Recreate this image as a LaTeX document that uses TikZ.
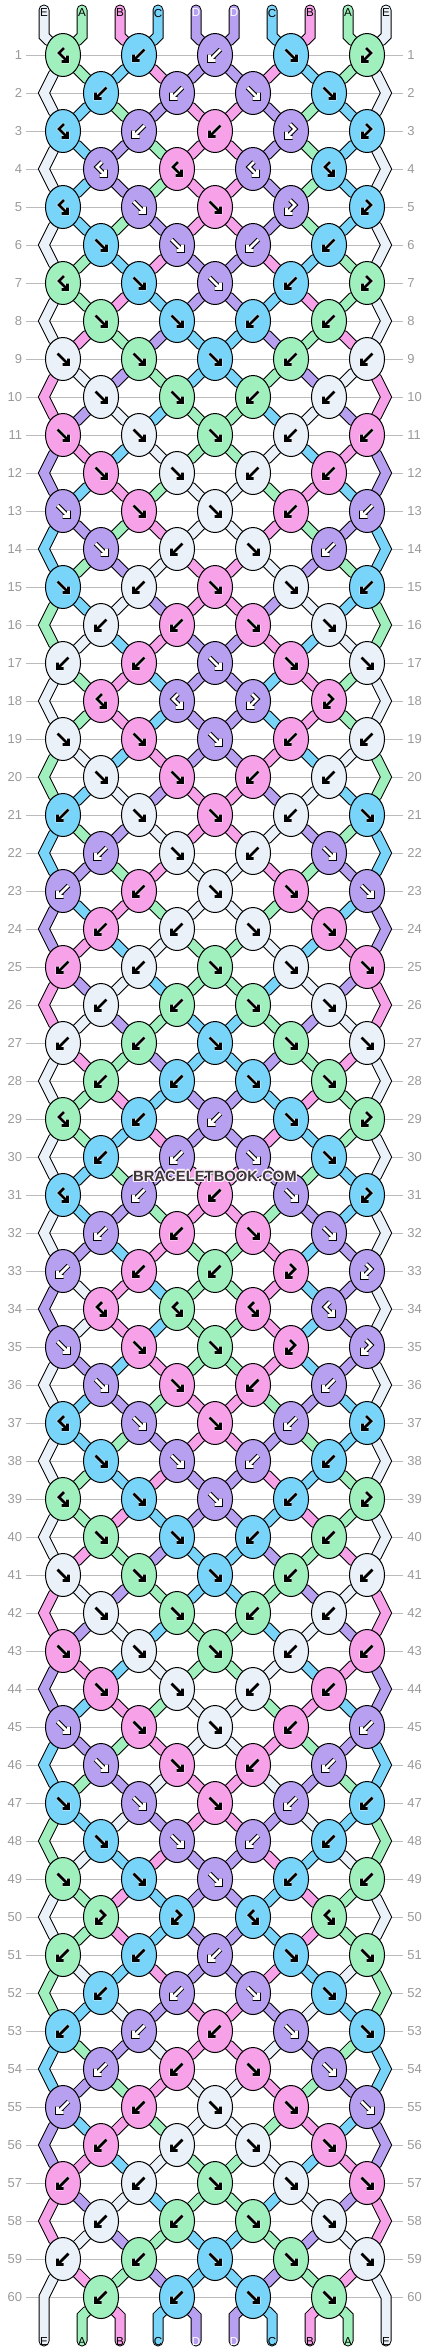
\documentclass[tikz,border=0pt]{standalone}
\usepackage{fontspec}
\setmainfont{Liberation Sans}
\usetikzlibrary{shapes.geometric}

\definecolor{strA}{HTML}{A0F0BE}
\definecolor{strB}{HTML}{F7A1E8}
\definecolor{strC}{HTML}{78D4F8}
\definecolor{strD}{HTML}{B8A0F0}
\definecolor{strE}{HTML}{EAF1F8}
\definecolor{rulegray}{HTML}{BBBBBB}
\definecolor{numgray}{HTML}{999999}
\definecolor{markgray}{HTML}{3A3A3A}

\pgfdeclarelayer{rules}
\pgfdeclarelayer{outline}
\pgfdeclarelayer{band}
\pgfsetlayers{rules,outline,band,main}

% knot icons, pixel units, y pointing down
\def\iconf{(-5.5,-5.5) -- (5.5,5.5) (-0.5,5.5) -- (5.5,5.5) -- (5.5,-0.5)}
\def\iconb{(5.5,-5.5) -- (-5.5,5.5) (0.5,5.5) -- (-5.5,5.5) -- (-5.5,-0.5)}
\def\iconB{(1,-7) -- (-4,-2) -- (4.5,6.5) (-1.5,6.5) -- (4.5,6.5) -- (4.5,0.5)}
\def\iconF{(-1,-7) -- (4,-2) -- (-4.5,6.5) (1.5,6.5) -- (-4.5,6.5) -- (-4.5,0.5)}

% string segments are collected here and drawn on their layers at the end
\gdef\edgecmds{}
\gdef\fillcmds{}

\tikzset{
  knot/.style={ellipse, draw=black, line width=0.5pt, minimum width=17.5pt,
    minimum height=21.5pt, inner sep=0pt},
  bandedge/.style={line width=5.5pt, draw=black, line cap=round, line join=miter},
  bandfill/.style={line width=4.5pt, line cap=round, line join=miter},
  iconline/.style={line join=miter, line cap=butt, miter limit=10},
  rownum/.style={font=\fontsize{6.5}{7}\selectfont, text=numgray, inner sep=0pt},
  strlabel/.style={font=\fontsize{5.8}{6}\selectfont, inner sep=0pt},
  marktext/.style={font=\bfseries\fontsize{7.4}{8}\selectfont, inner sep=0pt},
}

\begin{document}
\begin{tikzpicture}[x=0.5pt, y=-0.5pt]
\useasboundingbox (0,0) rectangle (430,2352);

% row rules and numbers
\begin{pgfonlayer}{rules}
\foreach \rw in {1,...,60} {
  \pgfmathtruncatemacro\yy{55+38*(\rw-1)}
  \draw[rulegray, line width=0.5pt] (26,\yy) -- (403,\yy);
  \node[rownum, anchor=east] (numl\rw) at (22.5,\yy) {\rw};
  \node[rownum, anchor=west] (numr\rw) at (407,\yy) {\rw};
}
\end{pgfonlayer}

% strings at the top
\foreach \c [count=\p] in {E,A,B,C,D,D,C,B,A,E} {
  \pgfmathtruncatemacro\xx{44+38*(\p-1)}
  \expandafter\xdef\csname s\p\endcsname{\c}
  \coordinate (top\p) at (\xx,10);
  \coordinate (topbend\p) at (\xx,36);
  \expandafter\xdef\csname at\p\endcsname{(top\p) -- (topbend\p)}
}

% knots: f forward, b backward, F forward-backward, B backward-forward
\foreach \types [count=\rw] in {
  {B,b,b,f,F},{b,b,f,f},{B,b,b,F,F},{B,B,B,B},{B,f,f,F,F},{f,f,b,b},
  {B,f,f,b,F},{f,f,b,b},{f,f,f,b,b},{f,f,b,b},{f,f,f,b,b},{f,f,b,b},
  {f,f,f,b,b},{f,b,f,b},{f,b,f,f,b},{b,b,f,f},{b,b,f,f,f},{B,B,F,F},
  {f,f,f,b,b},{f,f,b,b},{b,f,f,b,f},{b,f,b,f},{b,b,f,f,f},{b,b,f,f},
  {b,b,f,f,f},{b,b,f,f},{b,b,f,f,f},{b,b,f,f},{B,b,b,f,F},{b,b,f,f},
  {B,b,b,f,F},{b,b,f,f},{b,b,b,F,F},{B,B,B,B},{f,f,f,F,F},{f,f,b,b},
  {B,f,f,b,F},{f,f,b,b},{B,f,f,b,F},{f,f,b,b},{f,f,f,b,b},{f,f,b,b},
  {f,f,f,b,b},{f,f,b,b},{f,f,f,b,b},{f,f,b,b},{f,f,f,b,b},{f,f,b,b},
  {f,f,f,b,b},{F,F,B,B},{b,b,b,f,f},{b,b,f,f},{b,b,b,f,f},{b,b,f,f},
  {b,b,f,f,f},{b,b,f,f},{b,b,f,f,f},{b,b,f,f},{b,b,f,f,f},{b,b,f,f}} {
  \pgfmathtruncatemacro\yy{55+38*(\rw-1)}
  \ifodd\rw\relax \def\pfirst{1}\def\xfirst{63}\else \def\pfirst{2}\def\xfirst{101}\fi
  \foreach \kt [count=\kn] in \types {
    \pgfmathtruncatemacro\pl{\pfirst+2*(\kn-1)}
    \pgfmathtruncatemacro\pr{\pl+1}
    \pgfmathtruncatemacro\xx{\xfirst+76*(\kn-1)}
    \edef\lc{\csname s\pl\endcsname}
    \edef\rc{\csname s\pr\endcsname}
    \let\kc\rc
    \if\kt f\let\kc\lc\fi
    \if\kt F\let\kc\lc\fi
    \node[knot, fill=str\kc] (r\rw k\kn) at (\xx,\yy) {};
    \edef\pathl{\csname at\pl\endcsname}
    \edef\pathr{\csname at\pr\endcsname}
    \xdef\edgecmds{\unexpanded\expandafter{\edgecmds}
      \noexpand\draw[bandedge] \pathl -- (r\rw k\kn);
      \noexpand\draw[bandedge] \pathr -- (r\rw k\kn);}
    \xdef\fillcmds{\unexpanded\expandafter{\fillcmds}
      \noexpand\draw[bandfill, draw=str\lc] \pathl -- (r\rw k\kn);
      \noexpand\draw[bandfill, draw=str\rc] \pathr -- (r\rw k\kn);}
    \expandafter\let\expandafter\iconpath\csname icon\kt\endcsname
    \if\kc D
      \draw[iconline, shift={(\xx,\yy)}, line width=2.4pt, black] \iconpath;
      \draw[iconline, shift={(\xx,\yy)}, line width=1.4pt, white] \iconpath;
    \else
      \draw[iconline, shift={(\xx,\yy)}, line width=1.9pt, white] \iconpath;
      \draw[iconline, shift={(\xx,\yy)}, line width=1.4pt, black] \iconpath;
    \fi
    \if\kt f\expandafter\xdef\csname s\pl\endcsname{\rc}\expandafter\xdef\csname s\pr\endcsname{\lc}\fi
    \if\kt b\expandafter\xdef\csname s\pl\endcsname{\rc}\expandafter\xdef\csname s\pr\endcsname{\lc}\fi
    \expandafter\xdef\csname at\pl\endcsname{(r\rw k\kn)}
    \expandafter\xdef\csname at\pr\endcsname{(r\rw k\kn)}
  }
  % outer strings skip the even rows
  \ifodd\rw\relax\else
    \coordinate (r\rw e1) at (44,\yy);
    \coordinate (r\rw e10) at (386,\yy);
    \expandafter\xdef\csname at1\endcsname{\csname at1\endcsname -- (r\rw e1)}
    \expandafter\xdef\csname at10\endcsname{\csname at10\endcsname -- (r\rw e10)}
  \fi
}

% strings at the bottom
\foreach \p in {1,...,10} {
  \pgfmathtruncatemacro\xx{44+38*(\p-1)}
  \edef\lc{\csname s\p\endcsname}
  \edef\pathl{\csname at\p\endcsname}
  \coordinate (botbend\p) at (\xx,2316);
  \coordinate (bot\p) at (\xx,2341);
  \xdef\edgecmds{\unexpanded\expandafter{\edgecmds}
    \noexpand\draw[bandedge] \pathl -- (botbend\p) -- (bot\p);}
  \xdef\fillcmds{\unexpanded\expandafter{\fillcmds}
    \noexpand\draw[bandfill, draw=str\lc] \pathl -- (botbend\p) -- (bot\p);}
  \if\lc D\def\lblcol{white}\else\def\lblcol{black}\fi
  \node[strlabel, text=\lblcol] (lblbot\p) at (\xx,2341) {\lc};
}

\begin{pgfonlayer}{outline}
  \edgecmds
\end{pgfonlayer}
\begin{pgfonlayer}{band}
  \fillcmds
\end{pgfonlayer}

% string letters at the top
\foreach \c [count=\p] in {E,A,B,C,D,D,C,B,A,E} {
  \pgfmathtruncatemacro\xx{44+38*(\p-1)}
  \if\c D\def\lblcol{white}\else\def\lblcol{black}\fi
  \node[strlabel, text=\lblcol] (lbltop\p) at (\xx,13) {\c};
}

% watermark with a light halo
\foreach \dx/\dy in {-1.2/0,1.2/0,0/-1.2,0/1.2,-0.9/-0.9,0.9/-0.9,-0.9/0.9,0.9/0.9}
  \node[marktext, text=white!85!strB] at (215+\dx,1176+\dy) {BRACELETBOOK.COM};
\node[marktext, text=markgray] (mark) at (215,1176) {BRACELETBOOK.COM};
\end{tikzpicture}
\end{document}
